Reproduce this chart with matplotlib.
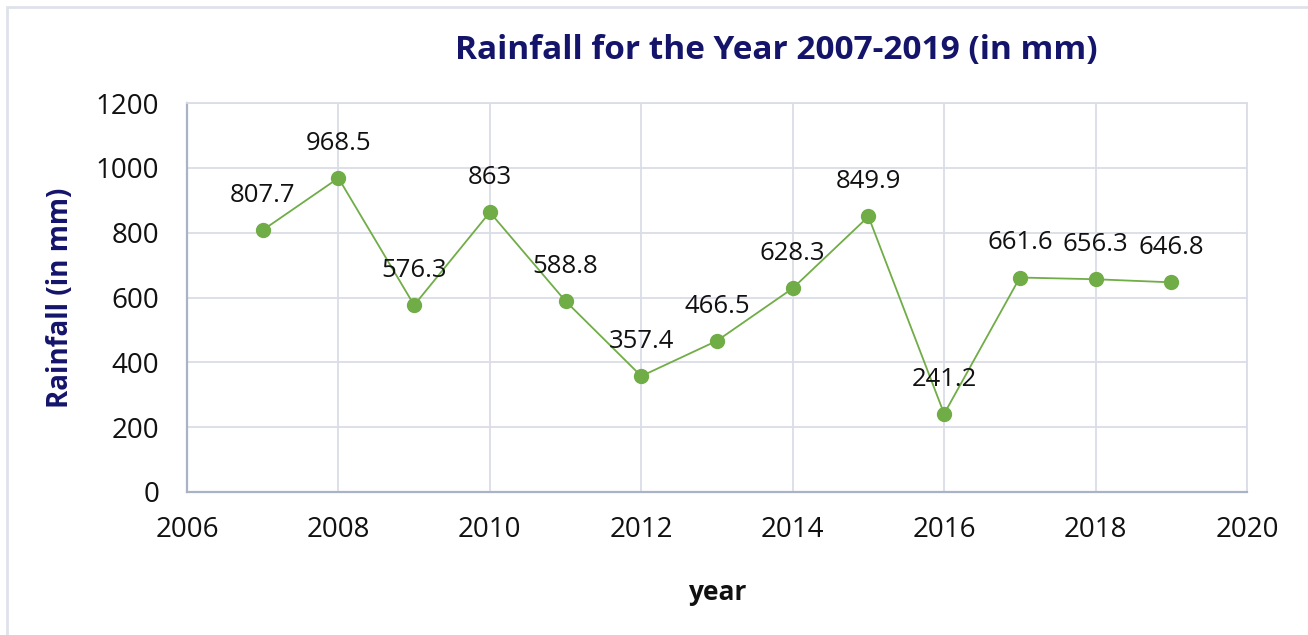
import matplotlib.pyplot as plt
from matplotlib.patches import Rectangle

plt.rcParams['font.family'] = ['Open Sans', 'DejaVu Sans']

# dati
years = [2007, 2008, 2009, 2010, 2011, 2012, 2013, 2014, 2015, 2016, 2017, 2018, 2019]
rainfall = [807.7, 968.5, 576.3, 863, 588.8, 357.4, 466.5, 628.3, 849.9, 241.2, 661.6, 656.3, 646.8]
labels = ['807.7', '968.5', '576.3', '863', '588.8', '357.4', '466.5',
          '628.3', '849.9', '241.2', '661.6', '656.3', '646.8']

fig = plt.figure(figsize=(13.08, 6.35), dpi=100)
ax = fig.add_axes([187 / 1308, 143 / 635, 1060 / 1308, 389 / 635])

# cornice chiara attorno al grafico
fig.patches.append(Rectangle((7 / 1308, -0.1), 1.2, (635 - 7) / 635 + 0.1,
                             transform=fig.transFigure, fill=False,
                             edgecolor='#dfe2ea', linewidth=2))

ax.plot(years, rainfall, color='#70ad47', linewidth=1.3, marker='o',
        markersize=10, markerfacecolor='#70ad47', markeredgecolor='#70ad47', zorder=3)

for x, y, lab in zip(years, rainfall, labels):
    ax.annotate(lab, (x, y), xytext=(0, 25), textcoords='offset points',
                ha='center', va='center', fontsize=18.5, color='#111111')

ax.set_xlim(2006, 2020)
ax.set_ylim(0, 1200)
ax.set_xticks(range(2006, 2021, 2))
ax.set_yticks(range(0, 1201, 200))
ax.grid(True, color='#dadde6', linewidth=1.3)
ax.set_axisbelow(True)

for s in ['top', 'right']:
    ax.spines[s].set_color('#dadde6')
    ax.spines[s].set_linewidth(1.3)
for s in ['left', 'bottom']:
    ax.spines[s].set_color('#aab3c6')
    ax.spines[s].set_linewidth(1.6)

ax.tick_params(axis='both', length=0, labelsize=20, colors='#111111')
ax.tick_params(axis='x', pad=17)
ax.tick_params(axis='y', pad=20)

# titoli degli assi
ax.text(-127 / 1060, 0.5, 'Rainfall (in mm)', transform=ax.transAxes, rotation=90,
        ha='center', va='center', fontsize=20, fontweight='bold', color='#14146b')
ax.text(0.5, -100 / 389, 'year', transform=ax.transAxes,
        ha='center', va='center', fontsize=19, fontweight='bold', color='#111111')

fig.text(776 / 1308, 1 - 50 / 635, 'Rainfall for the Year 2007-2019 (in mm)',
         ha='center', va='center', fontsize=24, fontweight='bold', color='#14146b')

plt.savefig('out.png', dpi=100)
